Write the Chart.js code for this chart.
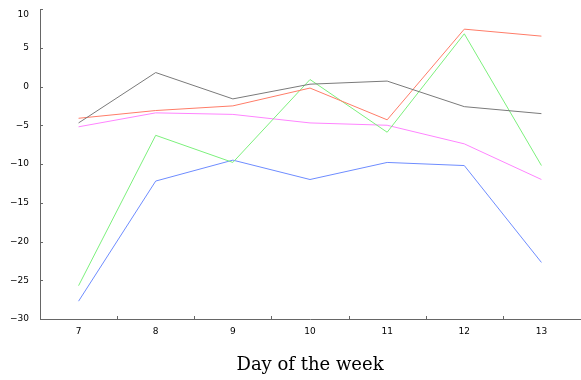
<!DOCTYPE html>
<html>
<head>
<meta charset="utf-8">
<script src="https://cdn.jsdelivr.net/npm/chart.js@4.4.1/dist/chart.umd.min.js"></script>
<style>
  html, body { margin: 0; padding: 0; background: #fff; }
  #wrap { width: 581px; height: 380px; }
</style>
</head>
<body>
<div id="wrap"><canvas id="chart"></canvas></div>
<script>
const days = ['7', '8', '9', '10', '11', '12', '13'];
const graySeries  = [-4.7, 1.8, -1.6, 0.3, 0.7, -2.6, -3.5];
const redSeries   = [-4.1, -3.1, -2.5, -0.2, -4.3, 7.4, 6.5];
const greenSeries = [-25.7, -6.3, -9.8, 0.9, -5.9, 6.8, -10.2];
const pinkSeries  = [-5.2, -3.4, -3.6, -4.7, -5.0, -7.4, -12.0];
const blueSeries  = [-27.7, -12.2, -9.5, -12.0, -9.8, -10.2, -22.7];
const yTicks = [10, 5, 0, -5, -10, -15, -20, -25, -30];

function line(data, color) {
    return {
        data: data,
        borderColor: color,
        borderWidth: 1,
        pointRadius: 0,
        fill: false,
        tension: 0
    };
}

// small tick marks drawn inside the plot area
const innerTicks = {
    id: 'innerTicks',
    afterDraw(chart) {
        const ctx = chart.ctx;
        const x = chart.scales.x, y = chart.scales.y;
        ctx.save();
        ctx.strokeStyle = '#666';
        ctx.lineWidth = 1;
        ctx.beginPath();
        for (let i = 1; i < days.length; i++) {
            const px = Math.round((x.getPixelForValue(i - 1) + x.getPixelForValue(i)) / 2) + 0.5;
            ctx.moveTo(px, y.bottom);
            ctx.lineTo(px, y.bottom - 3);
        }
        yTicks.forEach(v => {
            const py = Math.round(y.getPixelForValue(v)) + 0.5;
            ctx.moveTo(x.left, py);
            ctx.lineTo(x.left + 3, py);
        });
        ctx.stroke();
        ctx.restore();
    }
};

const ctx = document.getElementById('chart').getContext('2d');
new Chart(ctx, {
    type: 'line',
    data: {
        labels: days,
        datasets: [
            line(graySeries, '#7a7a7a'),
            line(redSeries, '#ff7c68'),
            line(greenSeries, '#7cf07c'),
            line(pinkSeries, '#ff84ff'),
            line(blueSeries, '#6e8cff')
        ]
    },
    options: {
        responsive: true,
        maintainAspectRatio: false,
        animation: false,
        layout: { padding: { top: 9, right: 1, left: 0, bottom: 0 } },
        plugins: {
            legend: { display: false },
            tooltip: { enabled: false }
        },
        scales: {
            x: {
                offset: true,
                afterFit(scale) { scale.height = 61; },
                grid: { display: false, drawTicks: false },
                border: { display: true, color: '#666', width: 1 },
                ticks: {
                    color: '#000',
                    font: { family: 'DejaVu Sans', size: 9 },
                    padding: 7,
                    maxRotation: 0
                },
                title: {
                    display: true,
                    text: 'Day of the week',
                    color: '#000',
                    font: { family: 'DejaVu Serif', size: 18 },
                    padding: { top: 4, bottom: 4 }
                }
            },
            y: {
                min: -30,
                max: 10,
                afterBuildTicks(scale) {
                    scale.ticks = yTicks.map(v => ({ value: v }));
                },
                afterFit(scale) {
                    scale.width = 40;
                    scale.paddingTop = 0;
                    scale.paddingBottom = 0;
                },
                grid: { display: false, drawTicks: false },
                border: { display: true, color: '#666', width: 1 },
                ticks: {
                    color: '#000',
                    font: { family: 'DejaVu Sans', size: 9 },
                    padding: 11,
                    callback: v => {
                        const s = String(v).replace('-', '\u2212');
                        // top label sits a little below its tick, as in the original
                        return v === 10 ? ['', s] : s;
                    }
                }
            }
        }
    },
    plugins: [innerTicks]
});
</script>
</body>
</html>
